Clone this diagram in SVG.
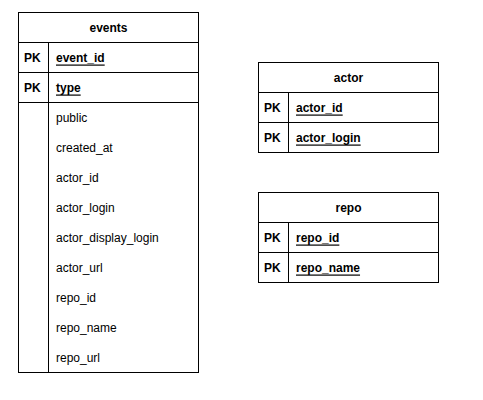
<svg xmlns="http://www.w3.org/2000/svg" width="483" height="400" viewBox="0 0 483 400">
<style>
.box{fill:#fff;stroke:#000;stroke-width:1}
.ln{stroke:#000;stroke-width:1;fill:none}
text{font-family:"Liberation Sans",Arial,Helvetica,sans-serif;font-size:12px;fill:#000;dominant-baseline:central}
.h{font-weight:bold;text-anchor:middle}
.pk{font-weight:bold}
.u{font-weight:bold;text-decoration:underline}
</style>
<rect width="483" height="400" fill="#fff"/>
<g id="events">
<rect class="box" x="18.5" y="12.5" width="180" height="360"/>
<line class="ln" x1="18.5" y1="42.5" x2="198.5" y2="42.5"/>
<line class="ln" x1="18.5" y1="72.5" x2="198.5" y2="72.5"/>
<line class="ln" x1="18.5" y1="102.5" x2="198.5" y2="102.5"/>
<line class="ln" x1="48.5" y1="42.5" x2="48.5" y2="372.5"/>
<text class="h" x="108.5" y="27.5">events</text>
<text class="pk" x="24" y="57.5">PK</text>
<text class="u" x="56" y="57.5">event_id</text>
<text class="pk" x="24" y="87.5">PK</text>
<text class="u" x="56" y="87.5">type</text>
<text x="56" y="117.5">public</text>
<text x="56" y="147.5">created_at</text>
<text x="56" y="177.5">actor_id</text>
<text x="56" y="207.5">actor_login</text>
<text x="56" y="237.5">actor_display_login</text>
<text x="56" y="267.5">actor_url</text>
<text x="56" y="297.5">repo_id</text>
<text x="56" y="327.5">repo_name</text>
<text x="56" y="357.5">repo_url</text>
</g>
<g id="actor">
<rect class="box" x="258.5" y="62.5" width="180" height="90"/>
<line class="ln" x1="258.5" y1="92.5" x2="438.5" y2="92.5"/>
<line class="ln" x1="258.5" y1="122.5" x2="438.5" y2="122.5"/>
<line class="ln" x1="288.5" y1="92.5" x2="288.5" y2="152.5"/>
<text class="h" x="348.5" y="77.5">actor</text>
<text class="pk" x="264" y="107.5">PK</text>
<text class="u" x="296" y="107.5">actor_id</text>
<text class="pk" x="264" y="137.5">PK</text>
<text class="u" x="296" y="137.5">actor_login</text>
</g>
<g id="repo">
<rect class="box" x="258.5" y="192.5" width="180" height="90"/>
<line class="ln" x1="258.5" y1="222.5" x2="438.5" y2="222.5"/>
<line class="ln" x1="258.5" y1="252.5" x2="438.5" y2="252.5"/>
<line class="ln" x1="288.5" y1="222.5" x2="288.5" y2="282.5"/>
<text class="h" x="348.5" y="207.5">repo</text>
<text class="pk" x="264" y="237.5">PK</text>
<text class="u" x="296" y="237.5">repo_id</text>
<text class="pk" x="264" y="267.5">PK</text>
<text class="u" x="296" y="267.5">repo_name</text>
</g>
<g id="connectors"></g>
</svg>
